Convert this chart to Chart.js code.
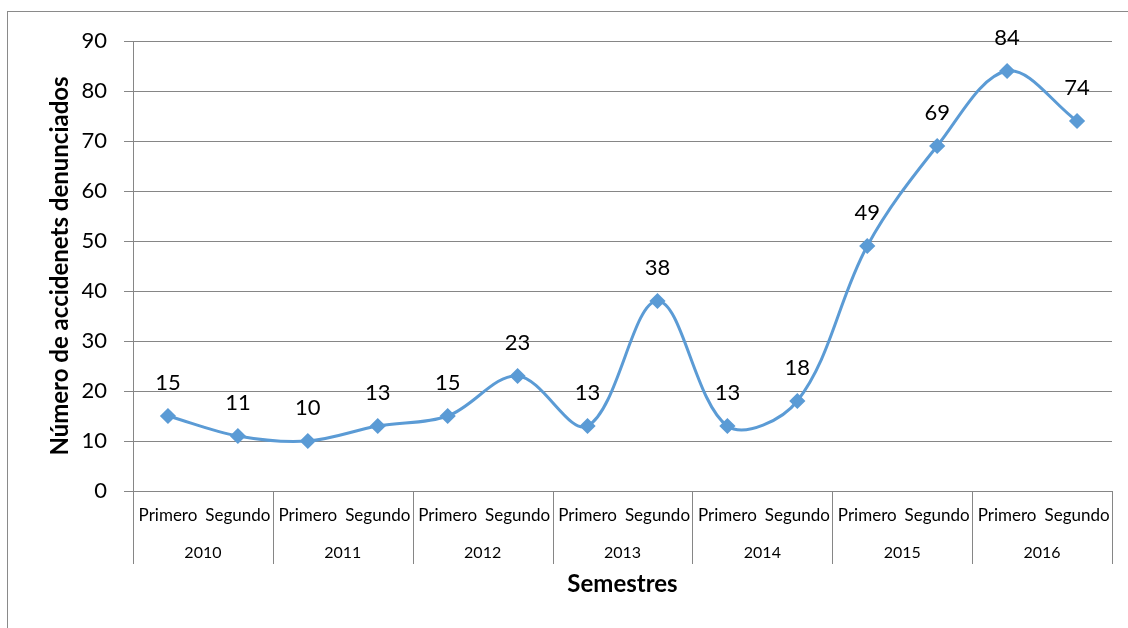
<!DOCTYPE html>
<html>
<head>
<meta charset="utf-8">
<script src="https://cdn.jsdelivr.net/npm/chart.js@4.4.1/dist/chart.umd.min.js"></script>
<style>
html,body{margin:0;padding:0;background:#fff;}
canvas{display:block;}
</style>
</head>
<body>
<canvas id="c" width="1128" height="628"></canvas>
<script>
const semesters = ["Primero","Segundo","Primero","Segundo","Primero","Segundo","Primero","Segundo","Primero","Segundo","Primero","Segundo","Primero","Segundo"];
const years = ["2010","2011","2012","2013","2014","2015","2016"];
const accidents = [15, 11, 10, 13, 15, 23, 13, 38, 13, 18, 49, 69, 84, 74];
const yTitle = "Número de accidenets denunciados";
const xTitle = "Semestres";

const GRID = '#868686';
const BLUE = '#5B9BD5';
const FONT = 'Lato, "Open Sans", sans-serif';

const framePlugin = {
  id: 'frame',
  beforeDraw(chart) {
    const ctx = chart.ctx;
    ctx.save();
    ctx.fillStyle = '#fff';
    ctx.fillRect(0, 0, chart.width, chart.height);
    ctx.strokeStyle = '#8a8a8a';
    ctx.lineWidth = 1;
    ctx.strokeRect(7.5, 11.5, 1400, 800);
    ctx.restore();
  },
  afterDraw(chart) {
    const ctx = chart.ctx;
    const x = chart.scales.x;
    const step = x.getPixelForValue(1) - x.getPixelForValue(0);
    const top = chart.chartArea.bottom;
    const bottom = top + 73;
    ctx.save();
    ctx.strokeStyle = GRID;
    ctx.lineWidth = 1;
    for (let k = 0; k <= years.length; k++) {
      const px = Math.round(x.getPixelForValue(2 * k) - step / 2) + 0.5;
      ctx.beginPath();
      ctx.moveTo(px, top);
      ctx.lineTo(px, bottom);
      ctx.stroke();
    }
    ctx.restore();
  }
};

const labelPlugin = {
  id: 'valueLabels',
  afterDatasetsDraw(chart) {
    const ctx = chart.ctx;
    const meta = chart.getDatasetMeta(0);
    ctx.save();
    ctx.font = '22px ' + FONT;
    ctx.fillStyle = '#000';
    ctx.textAlign = 'center';
    ctx.textBaseline = 'middle';
    meta.data.forEach((pt, i) => {
      ctx.fillText(String(accidents[i]), pt.x, pt.y - 33);
    });
    ctx.restore();
  }
};

new Chart(document.getElementById('c'), {
  type: 'line',
  data: {
    labels: semesters,
    datasets: [{
      data: accidents,
      borderColor: BLUE,
      backgroundColor: BLUE,
      borderWidth: 3,
      tension: 0.35,
      pointStyle: 'rectRot',
      pointRadius: 6,
      pointHoverRadius: 6,
      pointBackgroundColor: BLUE,
      pointBorderColor: BLUE,
      fill: false,
      xAxisID: 'x'
    }]
  },
  options: {
    responsive: false,
    animation: false,
    devicePixelRatio: 1,
    layout: { padding: { left: 42, right: 16, top: 41, bottom: 25 } },
    plugins: {
      legend: { display: false },
      tooltip: { enabled: false }
    },
    scales: {
      y: {
        min: 0, max: 90,
        ticks: { stepSize: 10, color: '#000', font: { family: FONT, size: 22 }, padding: 17 },
        grid: { color: GRID, tickColor: GRID, tickLength: 9, lineWidth: 1 },
        border: { color: GRID },
        title: { display: true, text: yTitle, color: '#000', font: { family: FONT, size: 24, weight: 'bold' } },
        afterFit(s) { s.width = 91; }
      },
      x: {
        type: 'category',
        offset: true,
        grid: { display: false, drawTicks: false },
        border: { display: false },
        ticks: { color: '#000', font: { family: FONT, size: 17 }, padding: 14, autoSkip: false, maxRotation: 0, minRotation: 0 },
        afterFit(s) { s.height = 33; }
      },
      x2: {
        type: 'category',
        position: 'bottom',
        labels: years,
        offset: true,
        grid: { display: false, drawTicks: false },
        border: { display: false },
        ticks: { color: '#000', font: { family: FONT, size: 16 }, padding: 19, autoSkip: false, maxRotation: 0, minRotation: 0 },
        title: { display: true, text: xTitle, color: '#000', font: { family: FONT, size: 24, weight: 'bold' } },
        afterFit(s) { s.height = 79; }
      }
    }
  },
  plugins: [framePlugin, labelPlugin]
});
</script>
</body>
</html>
